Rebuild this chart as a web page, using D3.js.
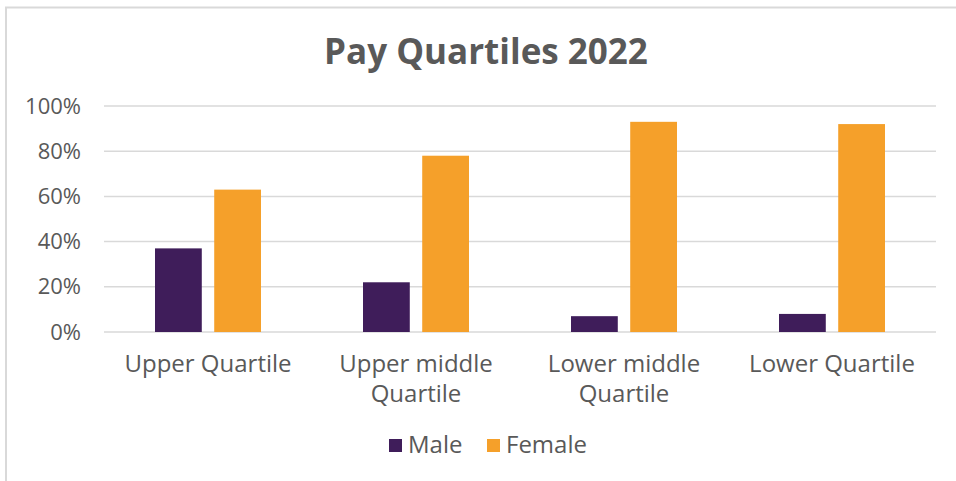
<!DOCTYPE html>
<html lang="en">
  <head>
    <meta charset="UTF-8">
    <title>Pay Quartiles 2022</title>
    <style>
      body { margin: 0; background: #fff; }
      text { font-family: "Open Sans", "DejaVu Sans", sans-serif; fill: #595959; font-variant-ligatures: none; }
      .grid line { stroke: #d9d9d9; stroke-width: 1.5; }
      .axis-y text { font-size: 22px; }
      .axis-x text { font-size: 24px; }
      .title { font-size: 35px; font-weight: bold; }
      .legend text { font-size: 24px; }
    </style>
    <script src="https://d3js.org/d3.v7.min.js"></script>
  </head>
  <body>
    <script>
      const categories = ["Upper Quartile", "Upper middle Quartile", "Lower middle Quartile", "Lower Quartile"];
      const catLines = [["Upper Quartile"], ["Upper middle", "Quartile"], ["Lower middle", "Quartile"], ["Lower Quartile"]];
      const seriesNames = ["Male", "Female"];
      const male = [37, 22, 7, 8];
      const female = [63, 78, 93, 92];
      const yTicks = [0, 20, 40, 60, 80, 100];
      const colors = ["#3f1d5a", "#f5a02a"];

      const width = 956;
      const height = 481;
      const plot = { left: 104, right: 936, top: 106, bottom: 332 };

      const svg = d3.select("body")
        .append("svg")
        .attr("width", width)
        .attr("height", height);

      // chart frame (runs off the right and bottom edges)
      svg.append("rect")
        .attr("x", 6)
        .attr("y", 7.5)
        .attr("width", width + 10)
        .attr("height", height + 10)
        .attr("fill", "#fff")
        .attr("stroke", "#d9d9d9")
        .attr("stroke-width", 2);

      svg.append("text")
        .attr("class", "title")
        .attr("x", 486)
        .attr("y", 64)
        .attr("text-anchor", "middle")
        .text("Pay Quartiles 2022");

      const x = d3.scaleBand()
        .domain(categories)
        .range([plot.left, plot.right]);

      const xSeries = d3.scaleBand()
        .domain(seriesNames)
        .range([0, 106])
        .paddingInner(0.21);

      const y = d3.scaleLinear()
        .domain([0, 100])
        .range([plot.bottom, plot.top]);

      // gridlines
      svg.append("g")
        .attr("class", "grid")
        .selectAll("line")
        .data(yTicks)
        .join("line")
        .attr("x1", plot.left)
        .attr("x2", plot.right)
        .attr("y1", d => y(d))
        .attr("y2", d => y(d));

      const yAxis = svg.append("g")
        .attr("class", "axis-y")
        .attr("transform", `translate(${plot.left - 20},0)`)
        .call(d3.axisLeft(y).tickValues(yTicks).tickFormat(d => d + "%").tickSize(0).tickPadding(3));
      yAxis.select(".domain").remove();

      const rows = categories.map((c, i) => ({ cat: c, values: [male[i], female[i]] }));

      const groups = svg.append("g")
        .selectAll("g")
        .data(rows)
        .join("g")
        .attr("transform", d => `translate(${x(d.cat) + x.bandwidth() / 2 - 53},0)`);

      groups.selectAll("rect")
        .data(d => d.values.map((v, j) => ({ name: seriesNames[j], v: v, j: j })))
        .join("rect")
        .attr("x", d => xSeries(d.name))
        .attr("width", xSeries.bandwidth())
        .attr("y", d => y(d.v))
        .attr("height", d => y(0) - y(d.v))
        .attr("fill", d => colors[d.j]);

      // category labels, one text per line
      const xLabels = svg.append("g").attr("class", "axis-x");
      categories.forEach((c, i) => {
        catLines[i].forEach((line, k) => {
          xLabels.append("text")
            .attr("x", x(c) + x.bandwidth() / 2)
            .attr("y", 372 + k * 30)
            .attr("text-anchor", "middle")
            .text(line);
        });
      });

      // legend
      const legend = svg.append("g").attr("class", "legend");
      const legendX = [389, 487];
      seriesNames.forEach((name, i) => {
        legend.append("rect")
          .attr("x", legendX[i])
          .attr("y", 439)
          .attr("width", 13)
          .attr("height", 13)
          .attr("fill", colors[i]);
        legend.append("text")
          .attr("x", legendX[i] + 19)
          .attr("y", 453)
          .text(name);
      });
    </script>
  </body>
</html>
